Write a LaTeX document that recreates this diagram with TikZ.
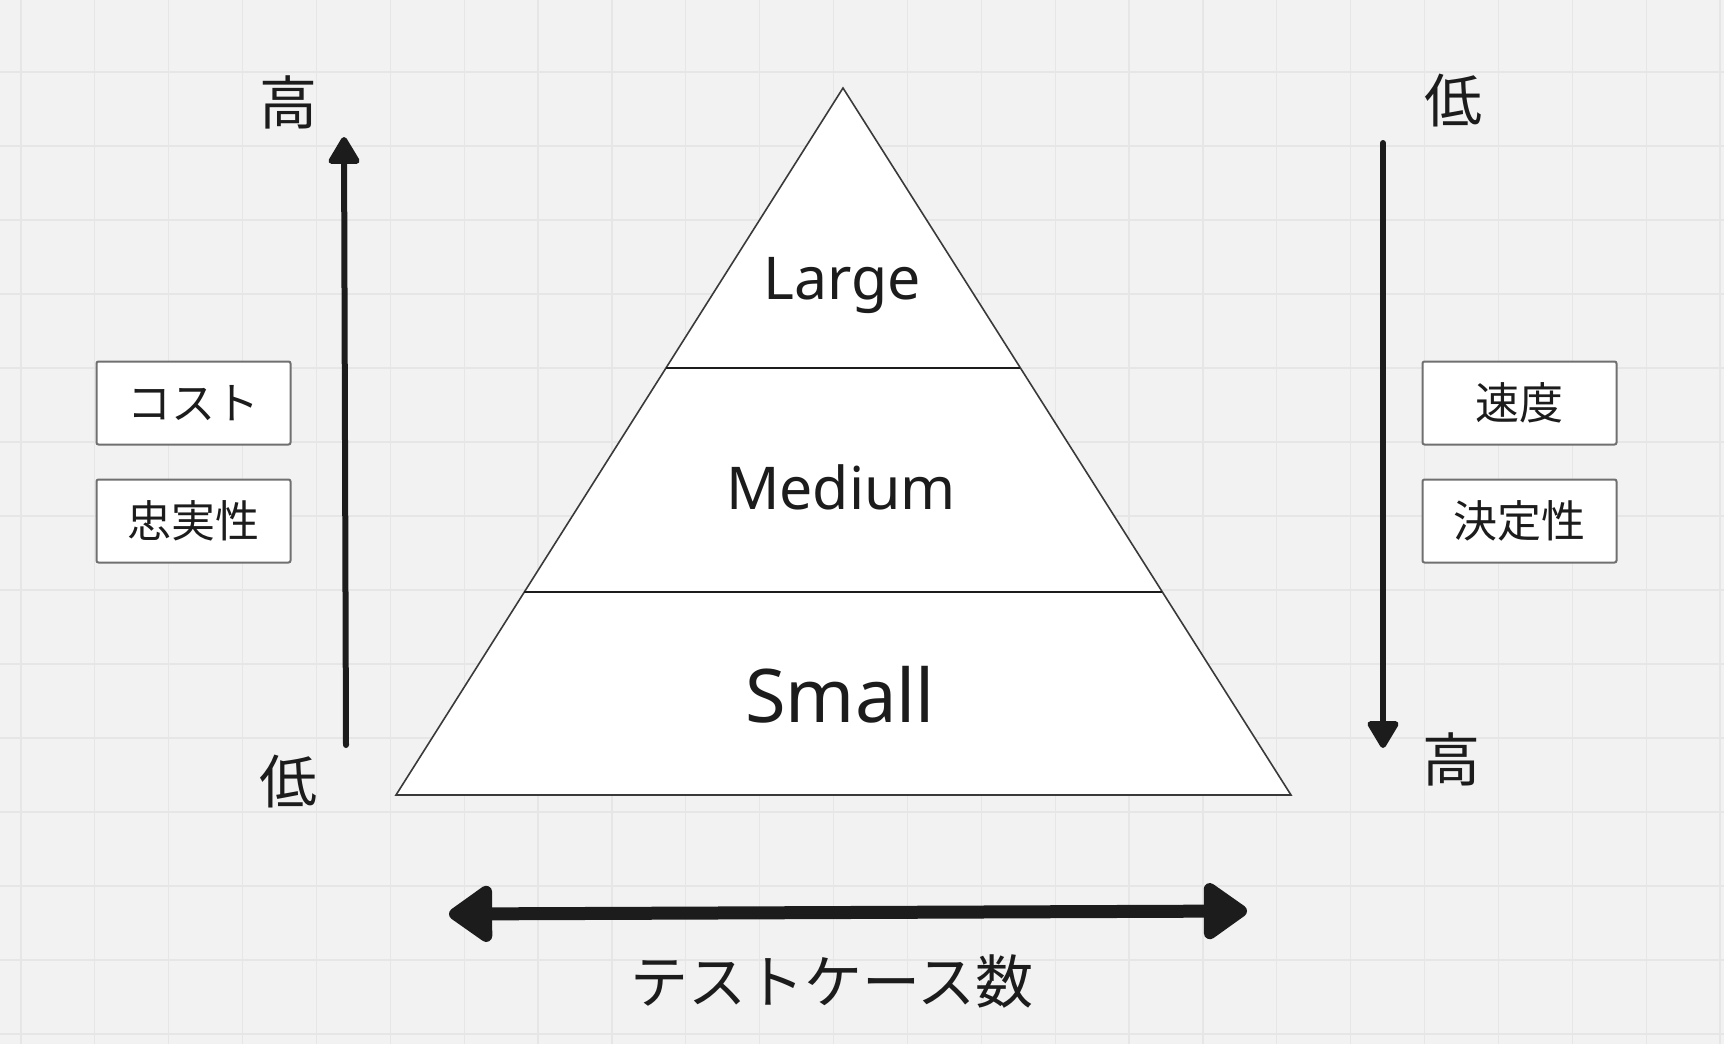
\documentclass[tikz,border=0pt]{standalone}
\usepackage{fontspec}
\setmainfont{Noto Sans}
\newfontfamily\jp{Noto Sans CJK JP}
\usetikzlibrary{arrows.meta}
\definecolor{bgc}{HTML}{F2F2F2}
\definecolor{gridc}{HTML}{E6E6E6}
\definecolor{ink}{HTML}{1C1C1C}
\definecolor{boxline}{HTML}{707070}
\definecolor{triline}{HTML}{3A3A3A}
\begin{document}
\begin{tikzpicture}[x=0.5pt,y=-0.5pt,
  axlabel/.style={font=\jp\fontsize{29}{34}\selectfont, text=ink, inner sep=0pt},
  tag/.style={draw=boxline, line width=1pt, fill=white, minimum width=97pt, minimum height=41.5pt,
    inner sep=0pt, font=\jp\fontsize{22}{26}\selectfont, text=ink, rounded corners=1pt},
  level/.style={text=ink, anchor=base, inner sep=0pt},
  axisarrow/.style={draw=ink, line width=3pt, line cap=round,
    -{Triangle[length=15pt,width=17pt,round]}},
  countarrow/.style={draw=ink, line width=6.5pt,
    {Triangle[length=24pt,width=32pt,round]}-{Triangle[length=24pt,width=32pt,round]}},
  divider/.style={draw=ink, line width=1.4pt}
]
% background and grid
\fill[bgc] (0,0) rectangle (1724,1044);
\useasboundingbox (0,0) rectangle (1724,1044);
\foreach \k in {0,...,23} \draw[gridc, line width=0.6pt] ({21+73.87*\k},0) -- ({21+73.87*\k},1044);
\foreach \gy in {-2,72,...,1044} \draw[gridc, line width=0.6pt] (0,\gy) -- (1724,\gy);

% pyramid
\coordinate (apex) at (843,88);
\coordinate (br) at (1291,795);
\coordinate (bl) at (396,795);
\draw[fill=white, draw=triline, line width=0.8pt, line join=miter] (apex) -- (br) -- (bl) -- cycle;
\path (apex) -- (bl) coordinate[pos=0.396] (d1l) coordinate[pos=0.7129] (d2l);
\path (apex) -- (br) coordinate[pos=0.396] (d1r) coordinate[pos=0.7129] (d2r);
\draw[divider] (d1l) -- (d1r);
\draw[divider] (d2l) -- (d2r);
\node[level, font=\fontsize{29.5}{34}\selectfont] (large) at (842,299) {Large};
\node[level, font=\fontsize{29.5}{34}\selectfont] (medium) at (841,509) {Medium};
\node[level, font=\fontsize{37}{42}\selectfont] (small) at (840,722) {Small};

% left axis
\coordinate (la0) at (346,745);
\coordinate (la1) at (344,137);
\draw[axisarrow] (la0) -- (la1);
\node[axlabel] (hiL) at (288,102) {高};
\node[axlabel] (loL) at (288,782) {低};
\node[tag] (cost) at (193.5,403) {コスト};
\node[tag] (fid) at (193.5,521) {忠実性};

% right axis
\coordinate (ra0) at (1383,143);
\coordinate (ra1) at (1383,748);
\draw[axisarrow] (ra0) -- (ra1);
\node[axlabel] (loR) at (1453,101) {低};
\node[axlabel] (hiR) at (1451,759) {高};
\node[tag] (speed) at (1519.5,403) {速度};
\node[tag] (det) at (1519.5,521) {決定性};

% bottom axis
\coordinate (ca0) at (449,914);
\coordinate (ca1) at (1247,911);
\draw[countarrow] (ca0) -- (ca1);
\node[axlabel] (count) at (832,982) {テストケース数};
\end{tikzpicture}
\end{document}
